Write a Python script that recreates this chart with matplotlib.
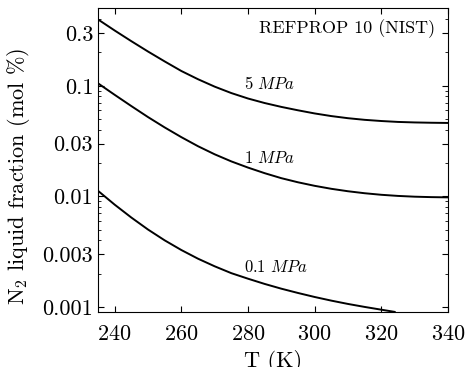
import matplotlib
matplotlib.use("Agg")
import matplotlib.pyplot as plt
from matplotlib.ticker import FixedLocator, FixedFormatter, LogLocator, NullFormatter
import numpy as np

plt.rcParams['font.family'] = 'serif'
plt.rcParams['font.serif'] = ['cmr10']
plt.rcParams['mathtext.fontset'] = 'cm'
plt.rcParams['axes.formatter.use_mathtext'] = True

# temperature (K) and N2 liquid fraction (mol %)
T_5 = [235, 240, 245, 250, 255, 260, 265, 270, 275, 280, 285, 290, 295, 300, 305,
       310, 315, 320, 325, 330, 335, 340]
x_5 = [0.398, 0.316, 0.253, 0.204, 0.166, 0.136, 0.1146, 0.0982, 0.0859, 0.0767,
       0.0698, 0.0644, 0.0600, 0.0562, 0.0532, 0.0509, 0.0492, 0.0480, 0.0471,
       0.0466, 0.0463, 0.0461]

T_1 = [235, 240, 245, 250, 255, 260, 265, 270, 275, 280, 285, 290, 295, 300, 305,
       310, 315, 320, 325, 330, 335, 340]
x_1 = [0.1052, 0.0828, 0.0655, 0.0521, 0.0420, 0.0343, 0.0284, 0.0240, 0.0207,
       0.0182, 0.0162, 0.0146, 0.0134, 0.01245, 0.0117, 0.01112, 0.01067, 0.01033,
       0.01009, 0.00993, 0.00984, 0.00979]

T_01 = [235, 240, 245, 250, 255, 260, 265, 270, 275, 280, 285, 290, 295, 300, 305,
        310, 315, 320, 324]
x_01 = [0.01122, 0.00841, 0.00643, 0.00501, 0.00400, 0.00327, 0.00273, 0.00233,
        0.00202, 0.00180, 0.001614, 0.001462, 0.001337, 0.00123, 0.00114, 0.001064,
        0.001, 0.000944, 0.000902]

series = [(T_5, x_5, '5 MPa', 0.105),
          (T_1, x_1, '1 MPa', 0.022),
          (T_01, x_01, '0.1 MPa', 0.0023)]

yticks = [0.001, 0.003, 0.01, 0.03, 0.1, 0.3]
ylabels = ['0.001', '0.003', '0.01', '0.03', '0.1', '0.3']
xticks = [240, 260, 280, 300, 320, 340]

fig = plt.figure(figsize=(4.65, 3.67), dpi=100)
ax = fig.add_axes([0.2108, 0.1499, 0.7526, 0.8270])

for T, x, lab, ly in series:
    ax.plot(T, x, color='black', lw=1.4)
    ax.text(278.9, ly, r'$\mathit{' + lab.replace(' ', r'\ ') + '}$', fontsize=12,
            ha='left', va='center')

ax.set_yscale('log')
ax.set_xlim(235, 340)
ax.set_ylim(0.0009, 0.5)
ax.yaxis.set_major_locator(FixedLocator(yticks))
ax.yaxis.set_major_formatter(FixedFormatter(ylabels))
ax.yaxis.set_minor_locator(LogLocator(base=10, subs=np.arange(2, 10)))
ax.yaxis.set_minor_formatter(NullFormatter())
ax.set_xticks(xticks)
ax.tick_params(which='both', direction='in', top=True, right=True, labelsize=16)
ax.tick_params(which='major', length=4)
ax.tick_params(which='minor', length=2.2)
ax.tick_params(axis='x', pad=9)

ax.set_xlabel('T (K)', fontsize=16)
ax.xaxis.set_label_coords(0.5, -0.125)
ax.set_ylabel(r'N$_2$ liquid fraction (mol %)', fontsize=16)
ax.yaxis.set_label_coords(-0.19, 0.448)
ax.text(0.963, 0.935, 'REFPROP 10 (NIST)', transform=ax.transAxes, ha='right',
        va='center', fontsize=13)

fig.savefig('out.png', dpi=100)
